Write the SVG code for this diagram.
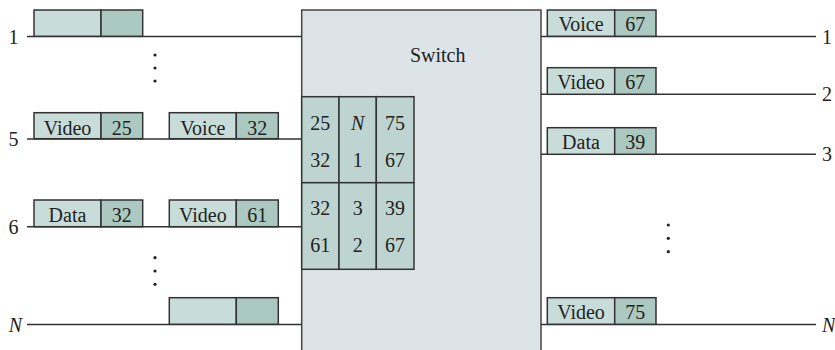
<svg xmlns="http://www.w3.org/2000/svg" width="835" height="350" viewBox="0 0 835 350">
<style>
text{font-family:"Liberation Serif","Times New Roman",serif;font-size:20px;fill:#222}
.c{text-anchor:middle}
.e{text-anchor:end}
.i{font-style:italic}
.ln{stroke:#333;stroke-width:1.4;fill:none}
.lt{fill:#c8ddd9;stroke:#333;stroke-width:1.5}
.dk{fill:#abc8c1;stroke:#333;stroke-width:1.5}
.tb{fill:#bdd4d0;stroke:#333;stroke-width:1.5}
.sw{fill:#dde4e7;stroke:#444;stroke-width:1.5}
.dot{fill:#222}
</style>
<g id="switch">
<rect class="sw" x="301.7" y="10" width="239.3" height="350"/>
<text class="c" x="437.7" y="61.7">Switch</text>
</g>
<g id="connectors">
<line class="ln" x1="27" y1="36.5" x2="301.7" y2="36.5"/>
<line class="ln" x1="27" y1="139" x2="301.7" y2="139"/>
<line class="ln" x1="27" y1="226.7" x2="301.7" y2="226.7"/>
<line class="ln" x1="27" y1="324.5" x2="301.7" y2="324.5"/>
<line class="ln" x1="541" y1="36.5" x2="816" y2="36.5"/>
<line class="ln" x1="541" y1="94.3" x2="816" y2="94.3"/>
<line class="ln" x1="541" y1="154.3" x2="816" y2="154.3"/>
<line class="ln" x1="541" y1="324.5" x2="816" y2="324.5"/>
</g>
<g id="labels">
<text class="e" x="18.5" y="43.5">1</text>
<text class="e" x="18.5" y="146">5</text>
<text class="e" x="18.5" y="233.5">6</text>
<text class="e i" x="22" y="331.5">N</text>
<text x="822" y="43.5">1</text>
<text x="822" y="101">2</text>
<text x="822" y="161">3</text>
<text class="i" x="822" y="331.5">N</text>
</g>
<g id="dots">
<circle class="dot" cx="155" cy="55" r="1.6"/>
<circle class="dot" cx="155" cy="68" r="1.6"/>
<circle class="dot" cx="155" cy="81" r="1.6"/>
<circle class="dot" cx="155" cy="257.7" r="1.6"/>
<circle class="dot" cx="155" cy="271" r="1.6"/>
<circle class="dot" cx="155" cy="284.3" r="1.6"/>
<circle class="dot" cx="668.3" cy="225" r="1.6"/>
<circle class="dot" cx="668.3" cy="238.3" r="1.6"/>
<circle class="dot" cx="668.3" cy="251.7" r="1.6"/>
</g>
<g id="in1-packet">
<rect class="lt" x="34" y="10" width="67" height="26.3"/>
<rect class="dk" x="101" y="10" width="41.7" height="26.3"/>
</g>
<g id="in5-packet-a">
<rect class="lt" x="34" y="112.7" width="67" height="26"/>
<rect class="dk" x="101" y="112.7" width="41.7" height="26"/>
<text class="c" x="67.5" y="134.5">Video</text>
<text class="c" x="121.8" y="134.5">25</text>
</g>
<g id="in5-packet-b">
<rect class="lt" x="169.3" y="112.7" width="67" height="26"/>
<rect class="dk" x="236.3" y="112.7" width="42" height="26"/>
<text class="c" x="202.8" y="134.5">Voice</text>
<text class="c" x="257.3" y="134.5">32</text>
</g>
<g id="in6-packet-a">
<rect class="lt" x="34" y="200" width="67" height="26.7"/>
<rect class="dk" x="101" y="200" width="41.7" height="26.7"/>
<text class="c" x="67.5" y="222">Data</text>
<text class="c" x="121.8" y="222">32</text>
</g>
<g id="in6-packet-b">
<rect class="lt" x="169.3" y="200" width="67" height="26.7"/>
<rect class="dk" x="236.3" y="200" width="42" height="26.7"/>
<text class="c" x="202.8" y="222">Video</text>
<text class="c" x="257.3" y="222">61</text>
</g>
<g id="inN-packet">
<rect class="lt" x="169.3" y="297.7" width="67" height="26.6"/>
<rect class="dk" x="236.3" y="297.7" width="42" height="26.6"/>
</g>
<g id="table">
<rect class="tb" x="301.7" y="96.7" width="37.3" height="86"/>
<rect class="tb" x="339" y="96.7" width="37.3" height="86"/>
<rect class="tb" x="376.3" y="96.7" width="37.7" height="86"/>
<rect class="tb" x="301.7" y="182.7" width="37.3" height="86.6"/>
<rect class="tb" x="339" y="182.7" width="37.3" height="86.6"/>
<rect class="tb" x="376.3" y="182.7" width="37.7" height="86.6"/>
<text class="c" x="320.3" y="130">25</text>
<text class="c i" x="357.7" y="130">N</text>
<text class="c" x="395" y="130">75</text>
<text class="c" x="320.3" y="166.7">32</text>
<text class="c" x="357.7" y="166.7">1</text>
<text class="c" x="395" y="166.7">67</text>
<text class="c" x="320.3" y="215">32</text>
<text class="c" x="357.7" y="215">3</text>
<text class="c" x="395" y="215">39</text>
<text class="c" x="320.3" y="251.7">61</text>
<text class="c" x="357.7" y="251.7">2</text>
<text class="c" x="395" y="251.7">67</text>
</g>
<g id="out1-packet">
<rect class="lt" x="547.3" y="10" width="67.4" height="26.3"/>
<rect class="dk" x="614.7" y="10" width="41.3" height="26.3"/>
<text class="c" x="581" y="31">Voice</text>
<text class="c" x="635.3" y="31">67</text>
</g>
<g id="out2-packet">
<rect class="lt" x="547.3" y="67.7" width="67.4" height="26.6"/>
<rect class="dk" x="614.7" y="67.7" width="41.3" height="26.6"/>
<text class="c" x="581" y="89">Video</text>
<text class="c" x="635.3" y="89">67</text>
</g>
<g id="out3-packet">
<rect class="lt" x="547.3" y="127.7" width="67.4" height="26.6"/>
<rect class="dk" x="614.7" y="127.7" width="41.3" height="26.6"/>
<text class="c" x="581" y="149">Data</text>
<text class="c" x="635.3" y="149">39</text>
</g>
<g id="outN-packet">
<rect class="lt" x="547.3" y="297.7" width="67.4" height="26.6"/>
<rect class="dk" x="614.7" y="297.7" width="41.3" height="26.6"/>
<text class="c" x="581" y="319">Video</text>
<text class="c" x="635.3" y="319">75</text>
</g>
</svg>
